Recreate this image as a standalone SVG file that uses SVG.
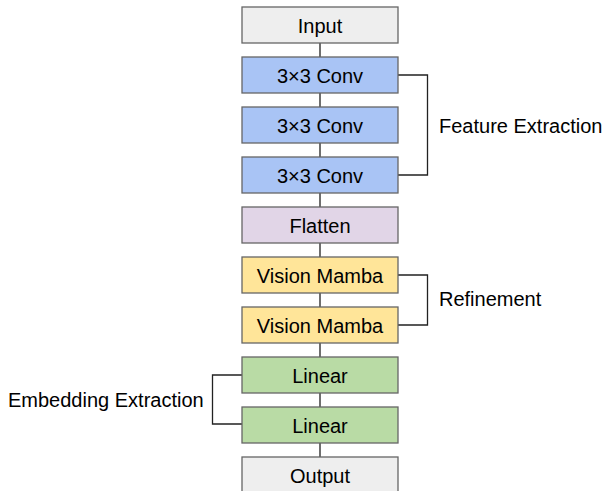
<svg xmlns="http://www.w3.org/2000/svg" width="608" height="491" viewBox="0 0 608 491">
<style>
.box{stroke:#666666;stroke-width:1.3}
.t{font-family:"Comic Sans MS","Liberation Sans",Arial,sans-serif;font-size:20px;fill:#000}
.c{text-anchor:middle}
.ln{stroke:#222;stroke-width:1.3;fill:none}
</style>
<rect width="608" height="491" fill="#ffffff"/>
<g id="connectors">
<path class="ln" d="M320 43V57M320 93V107M320 143V157M320 193V207M320 243V257M320 293V307M320 343V357M320 393V407M320 443V457"/>
<path class="ln" d="M398 75H427.5V175H398"/>
<path class="ln" d="M398 275H427.5V325H398"/>
<path class="ln" d="M242 375H212.5V424H242"/>
</g>
<g id="input"><rect class="box" x="242" y="7" width="156" height="36" fill="#eeeeee"/><text class="t c" x="320" y="32.5">Input</text></g>
<g id="conv1"><rect class="box" x="242" y="57" width="156" height="36" fill="#a9c4f5"/><text class="t c" x="320" y="82.5">3×3 Conv</text></g>
<g id="conv2"><rect class="box" x="242" y="107" width="156" height="36" fill="#a9c4f5"/><text class="t c" x="320" y="132.5">3×3 Conv</text></g>
<g id="conv3"><rect class="box" x="242" y="157" width="156" height="36" fill="#a9c4f5"/><text class="t c" x="320" y="182.5">3×3 Conv</text></g>
<g id="flatten"><rect class="box" x="242" y="207" width="156" height="36" fill="#e1d5e7"/><text class="t c" x="320" y="232.5">Flatten</text></g>
<g id="mamba1"><rect class="box" x="242" y="257" width="156" height="36" fill="#ffe599"/><text class="t c" x="320" y="282.5">Vision Mamba</text></g>
<g id="mamba2"><rect class="box" x="242" y="307" width="156" height="36" fill="#ffe599"/><text class="t c" x="320" y="332.5">Vision Mamba</text></g>
<g id="linear1"><rect class="box" x="242" y="357" width="156" height="36" fill="#b9dba5"/><text class="t c" x="320" y="382.5">Linear</text></g>
<g id="linear2"><rect class="box" x="242" y="407" width="156" height="36" fill="#b9dba5"/><text class="t c" x="320" y="432.5">Linear</text></g>
<g id="output"><rect class="box" x="242" y="457" width="156" height="36" fill="#eeeeee"/><text class="t c" x="320" y="482.5">Output</text></g>
<g id="label-feature"><text class="t" x="439" y="133">Feature Extraction</text></g>
<g id="label-refinement"><text class="t" x="439" y="306">Refinement</text></g>
<g id="label-embedding"><text class="t" x="8" y="407">Embedding Extraction</text></g>
</svg>
